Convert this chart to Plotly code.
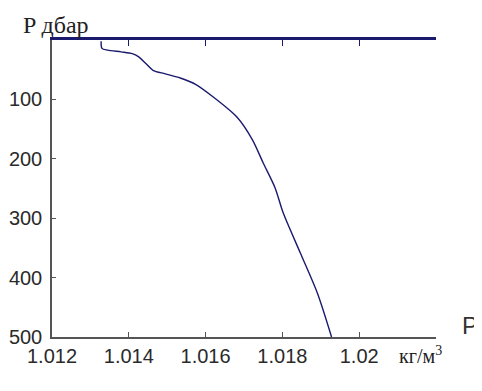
import plotly.graph_objects as go

# Pressure (dbar) and density (kg/m^3)
pressure = [2, 14, 17, 20, 23, 28, 40, 51, 57, 64, 75, 96, 130, 168, 207, 249, 291, 359, 426, 500]
density = [1.01328, 1.01330, 1.01345, 1.01380, 1.01409, 1.01425, 1.01445, 1.01463, 1.01495, 1.01534,
           1.01575, 1.01620, 1.01682, 1.01722, 1.01750, 1.01781, 1.01802, 1.01847, 1.01891, 1.01928]

x_ticks = [1.012, 1.014, 1.016, 1.018, 1.020]
x_tick_labels = ["1.012", "1.014", "1.016", "1.018", "1.02"]
y_ticks = [100, 200, 300, 400, 500]
y_tick_labels = ["100", "200", "300", "400", "500"]

navy = "#1a1a6e"
axis_gray = "#555555"
tick_font = dict(family="Liberation Sans, Arial, sans-serif", size=20, color="#2a2a2a")

fig = go.Figure()
fig.add_trace(go.Scatter(x=density, y=pressure, mode="lines",
                         line=dict(color=navy, width=1.4, shape="spline", smoothing=0.8),
                         showlegend=False, hoverinfo="skip"))
# invisible trace on top axis so it renders
fig.add_trace(go.Scatter(x=[1.012], y=[0], xaxis="x2", mode="markers",
                         marker=dict(opacity=0), showlegend=False, hoverinfo="skip"))

# page body has an 8px margin, so the figure is 8px smaller and shifted accordingly
fig.update_layout(
    width=474, height=383,
    margin=dict(l=44, r=46, t=32, b=54, autoexpand=False),
    paper_bgcolor="white", plot_bgcolor="white",
    xaxis=dict(range=[1.012, 1.022], tickvals=x_ticks, ticktext=x_tick_labels,
               ticks="inside", ticklen=5, tickcolor=axis_gray, tickwidth=1,
               showline=True, linecolor=axis_gray, linewidth=1.5, automargin=False,
               showgrid=False, zeroline=False, tickfont=tick_font),
    xaxis2=dict(range=[1.012, 1.022], overlaying="x", side="top", tickvals=x_ticks,
                ticks="inside", ticklen=6, tickcolor=navy, tickwidth=1, showticklabels=False,
                showline=True, linecolor=navy, linewidth=3, showgrid=False, zeroline=False),
    yaxis=dict(range=[500, 0], tickvals=y_ticks, ticktext=y_tick_labels,
               ticks="inside", ticklen=4, tickcolor=axis_gray, automargin=False,
               ticklabelstandoff=4,
               showline=True, linecolor=axis_gray, linewidth=1.5, mirror=False,
               showgrid=False, zeroline=False, tickfont=tick_font),
    yaxis2=dict(range=[500, 0], overlaying="y", side="right", showticklabels=False,
                showline=True, linecolor=axis_gray, linewidth=1.5, showgrid=False, zeroline=False),
)

fig.add_annotation(text="P дбар", xref="paper", yref="paper", x=-0.08, y=1.0, yshift=0,
                   xanchor="left", yanchor="bottom", showarrow=False,
                   font=dict(family="Liberation Serif, Times New Roman, serif", size=24, color="#222222"))
fig.add_annotation(text="кг/м<sup>3</sup>", xref="paper", yref="paper", x=1.02, y=0, yshift=-32,
                   xanchor="right", yanchor="bottom", showarrow=False,
                   font=dict(family="Liberation Serif, Times New Roman, serif", size=20, color="#222222"))
fig.add_annotation(text="P", xref="paper", yref="paper", x=1.089, y=0.04,
                   xanchor="center", yanchor="middle", showarrow=False,
                   font=dict(family="Liberation Sans, Arial, sans-serif", size=24, color="#333333"))

fig.write_html("out.html")
